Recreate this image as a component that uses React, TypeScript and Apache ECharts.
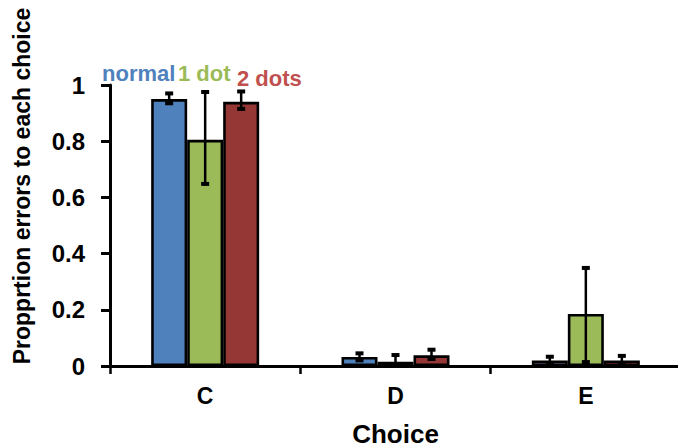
import React, { useEffect, useRef } from "react";
import * as echarts from "echarts";

const categories = ["C", "D", "E"];
const seriesNames = ["normal", "1 dot", "2 dots"];
const normalValues = [0.95, 0.032, 0.02];
const oneDotValues = [0.805, 0.015, 0.185];
const twoDotsValues = [0.94, 0.038, 0.02];
const normalErr = [[0.935, 0.97], [0.02, 0.045], [0.01, 0.033]];
const oneDotErr = [[0.648, 0.975], [0.005, 0.039], [0.014, 0.349]];
const twoDotsErr = [[0.915, 0.977], [0.025, 0.058], [0.01, 0.036]];
const yTicks = [0, 0.2, 0.4, 0.6, 0.8, 1];

const barColors = ["#4F81BD", "#9BBB59", "#953735"];
const textColors = ["#4F81BD", "#9BBB59", "#C0504D"];
const FONT = "Liberation Sans, Arial, sans-serif";

export default function App() {
  const ref = useRef<HTMLDivElement>(null);
  useEffect(() => {
    const chart = echarts.init(ref.current!, null, { renderer: "svg" });
    const values = [normalValues, oneDotValues, twoDotsValues];
    const errs = [normalErr, oneDotErr, twoDotsErr];
    const barW = 36;

    const barSeries = values.map((vals, si) => ({
      type: "bar",
      name: seriesNames[si],
      data: vals.map((v, ci) => ({
        value: v,
        itemStyle:
          si === 0 && ci === 2 ? { color: "#8064A2" } : undefined,
      })),
      barWidth: barW,
      barGap: "0%",
      itemStyle: { color: barColors[si], borderColor: "#000", borderWidth: 2.6 },
      z: 2,
    }));

    const errSeries = errs.map((e, si) => ({
      type: "custom",
      name: seriesNames[si] + " err",
      data: e.map((r, ci) => [ci, r[0], r[1]]),
      z: 5,
      renderItem: (params: any, api: any) => {
        const ci = api.value(0);
        const lo = api.coord([ci, api.value(1)]);
        const hi = api.coord([ci, api.value(2)]);
        const x = lo[0] + (si - 1) * barW;
        const cw = 4;
        return {
          type: "group",
          children: [
            {
              type: "line",
              shape: { x1: x, y1: hi[1], x2: x, y2: lo[1] },
              style: { stroke: "#000", lineWidth: 2.5 },
            },
            {
              type: "line",
              shape: { x1: x - cw, y1: hi[1], x2: x + cw, y2: hi[1] },
              style: { stroke: "#000", lineWidth: 4 },
            },
            {
              type: "line",
              shape: { x1: x - cw, y1: lo[1], x2: x + cw, y2: lo[1] },
              style: { stroke: "#000", lineWidth: 4 },
            },
          ],
        };
      },
    }));

    const legendPos = [
      { x: 102, y: 73 },
      { x: 178, y: 73 },
      { x: 237, y: 78 },
    ];

    chart.setOption({
      animation: false,
      grid: {
        left: 110,
        top: 85,
        width: 571,
        height: 281,
        containLabel: false,
        outerBoundsMode: "none",
      },
      xAxis: {
        type: "category",
        data: categories,
        axisLine: { lineStyle: { color: "#000", width: 3 } },
        axisTick: { show: true, length: 8, lineStyle: { color: "#000", width: 2.5 } },
        axisLabel: {
          color: "#000",
          fontWeight: "bold",
          fontSize: 23,
          fontFamily: FONT,
          margin: 18,
        },
        name: "Choice",
        nameLocation: "middle",
        nameGap: 55,
        nameTextStyle: { color: "#000", fontWeight: "bold", fontSize: 26, fontFamily: FONT },
      },
      yAxis: {
        type: "value",
        min: yTicks[0],
        max: yTicks[yTicks.length - 1],
        interval: 0.2,
        splitLine: { show: false },
        axisLine: { show: true, lineStyle: { color: "#000", width: 3 } },
        axisTick: { show: true, length: 9, lineStyle: { color: "#000", width: 3 } },
        axisLabel: {
          color: "#000",
          fontWeight: "bold",
          fontSize: 24,
          fontFamily: FONT,
          margin: 25,
        },
      },
      graphic: [
        {
          type: "text",
          x: 22,
          y: 186,
          rotation: Math.PI / 2,
          style: {
            text: "Propprtion errors to each choice",
            fill: "#000",
            font: `bold 23px ${FONT}`,
            align: "center",
            verticalAlign: "middle",
          },
        },
        ...seriesNames.map((n, i) => ({
          type: "text",
          x: legendPos[i].x,
          y: legendPos[i].y,
          style: {
            text: n,
            fill: textColors[i],
            font: `bold 22px ${FONT}`,
            align: "left",
            verticalAlign: "middle",
          },
        })),
      ],
      series: [...barSeries, ...errSeries],
    });
    return () => chart.dispose();
  }, []);
  return (
    <div
      ref={ref}
      style={{ position: "absolute", left: 0, top: 0, width: 678, height: 448 }}
    />
  );
}
